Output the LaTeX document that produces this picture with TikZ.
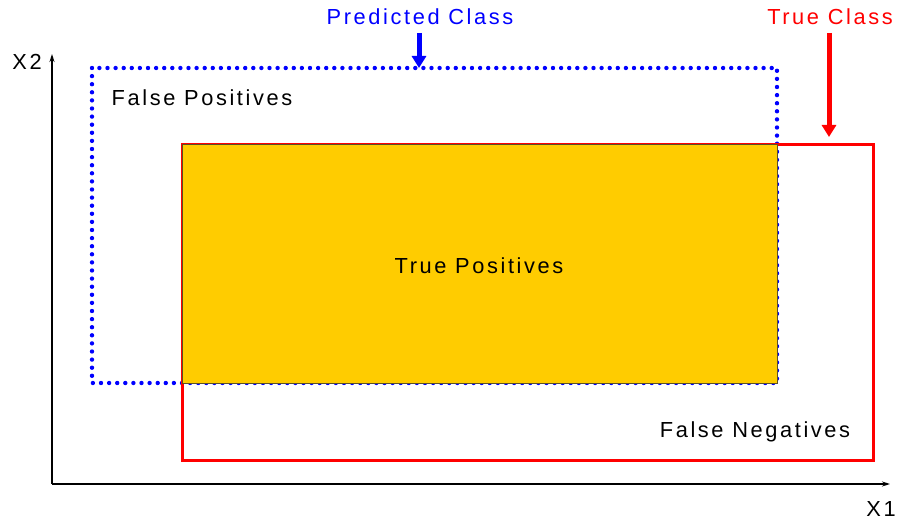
\documentclass[tikz,border=0pt]{standalone}
\usepackage{fontspec}
\setmainfont{Liberation Sans}[LetterSpace=12]
\usetikzlibrary{arrows.meta}
\definecolor{tpyellow}{RGB}{255,204,0}
\definecolor{tpedge}{RGB}{90,80,40}
\begin{document}
\begin{tikzpicture}[x=1pt,y=-1pt,
  lbl/.style={font=\fontsize{21.8}{24}\selectfont, inner sep=0pt, anchor=center},
  axis/.style={line width=1.2pt, -{Stealth[length=8pt,width=5pt]}},
  bigarrow/.style={line width=5pt, -{Triangle[length=12pt,width=14pt]}}]
\useasboundingbox (0,0) rectangle (898,524);
% predicted class (blue dotted)
\draw[blue, line width=4.4pt, line cap=round, dash pattern=on 0pt off 8.1pt] (92,68) rectangle (777,383);
% true class (red)
\draw[red, line width=3pt] (182,145) rectangle (873,460);
% true positives
\draw[fill=tpyellow, draw=tpedge, line width=1pt] (182,145) rectangle (777,383);
% axes
\coordinate (o) at (52,484);
\coordinate (xend) at (890,484);
\coordinate (yend) at (52,54);
\draw[axis] (o) -- (xend);
\draw[axis] (o) -- (yend);
\node[lbl] (x2) at (27,62) {X2};
\node[lbl] (x1) at (881,509) {X1};
% labels
\node[lbl, text=blue] (pc) at (420,17) {Predicted Class};
\node[lbl, text=red] (tc) at (830,17) {True Class};
\coordinate (pctip) at (419,68);
\coordinate (tctip) at (829,137);
\draw[bigarrow, blue] (419,33) -- (pctip);
\draw[bigarrow, red] (829,33) -- (tctip);
\node[lbl] (fp) at (202,98) {False Positives};
\node[lbl] (tp) at (479,266) {True Positives};
\node[lbl] (fn) at (755,432) {False Negatives};
\end{tikzpicture}
\end{document}
